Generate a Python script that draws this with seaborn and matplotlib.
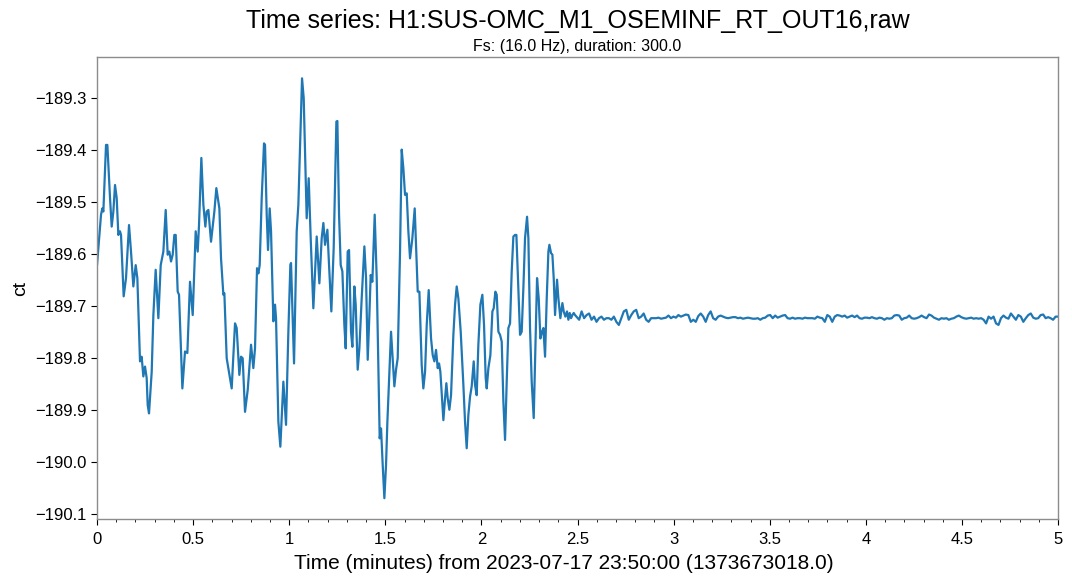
import numpy as np
import pandas as pd
import matplotlib
matplotlib.use("Agg")
import matplotlib.pyplot as plt
from matplotlib.ticker import MultipleLocator
import seaborn as sns

# ---------------  Data (seconds, counts)  ------------
# active part, first ~75 s
t_early = [0.0, 1.25, 1.66, 1.98, 2.81, 3.23, 4.06, 4.58, 5.10, 5.62,
           6.14, 6.66, 7.18, 7.49, 8.32, 9.05, 9.99, 10.61, 11.34, 12.07,
           12.59, 13.42, 13.94, 14.46, 14.98, 15.50, 15.82, 16.23, 17.07, 17.59,
           18.31, 19.15, 19.88, 20.71, 21.44, 22.06, 22.58, 23.10, 23.62, 24.14,
           24.56, 25.18, 25.60, 26.64, 27.47, 28.20, 29.03, 29.87, 30.80, 31.43,
           31.84, 32.57, 33.20, 33.82, 34.24, 34.76, 35.59, 36.63, 37.25, 37.57,
           38.19, 38.71, 39.44, 39.75, 40.48, 41.00, 42.04, 43.08, 43.60, 44.43,
           44.95, 45.47, 46.20, 47.04, 48.08, 48.80, 49.32, 49.95, 50.37, 50.78,
           51.41, 52.13, 52.45, 52.97, 53.38, 53.90, 54.32, 55.05, 55.57, 55.88,
           56.61, 57.23, 58.17, 59.00, 59.73, 60.35, 60.56, 61.50, 62.33, 62.85,
           63.37, 64.00, 64.52, 65.04, 65.45, 66.08, 66.70, 67.53, 68.58, 69.41,
           70.14, 70.66, 71.18, 71.91, 72.43, 73.15, 73.88, 74.72]
ct_early = [-189.621, -189.524, -189.512, -189.518, -189.390, -189.390, -189.492, -189.547, -189.518, -189.467,
            -189.492, -189.563, -189.556, -189.563, -189.681, -189.646, -189.544, -189.595, -189.662, -189.621,
            -189.646, -189.806, -189.797, -189.835, -189.816, -189.838, -189.890, -189.906, -189.826, -189.717,
            -189.630, -189.723, -189.621, -189.595, -189.515, -189.601, -189.595, -189.614, -189.601, -189.563,
            -189.563, -189.672, -189.678, -189.858, -189.787, -189.790, -189.653, -189.717, -189.556, -189.595,
            -189.544, -189.415, -189.505, -189.547, -189.518, -189.515, -189.576, -189.518, -189.473, -189.486,
            -189.512, -189.608, -189.678, -189.675, -189.800, -189.819, -189.858, -189.733, -189.742, -189.832,
            -189.797, -189.800, -189.903, -189.861, -189.774, -189.819, -189.781, -189.627, -189.637, -189.621,
            -189.492, -189.387, -189.390, -189.524, -189.592, -189.512, -189.556, -189.729, -189.697, -189.723,
            -189.922, -189.970, -189.845, -189.928, -189.749, -189.621, -189.617, -189.810, -189.556, -189.505,
            -189.396, -189.262, -189.300, -189.428, -189.531, -189.454, -189.569, -189.704, -189.566, -189.656,
            -189.569, -189.540, -189.582, -189.553, -189.621, -189.710, -189.588, -189.345]

# active part, ~75 s to ~149 s
t_late = [75.03, 75.55, 76.07, 76.59, 77.21, 77.63, 78.25, 78.67, 79.29, 79.71,
          80.33, 80.75, 81.37, 81.90, 82.62, 83.46, 83.98, 84.50, 85.02, 85.43,
          85.95, 86.68, 87.31, 87.83, 88.24, 88.66, 89.18, 89.70, 90.22, 90.64,
          91.16, 91.78, 92.30, 92.82, 93.34, 93.86, 94.59, 95.11, 95.63, 96.15,
          96.67, 97.19, 97.71, 98.44, 99.17, 100.11, 100.63, 101.35, 101.87, 102.40,
          102.92, 103.54, 104.27, 104.79, 105.31, 105.83, 106.35, 106.77, 107.18, 108.12,
          108.64, 109.05, 109.47, 109.99, 110.51, 111.24, 111.76, 112.28, 112.80, 113.53,
          114.36, 114.88, 115.40, 115.92, 116.44, 116.96, 117.59, 118.00, 118.52, 119.04,
          119.67, 120.29, 120.81, 121.33, 121.65, 122.17, 122.79, 123.42, 123.83, 124.35,
          124.77, 125.29, 125.81, 126.33, 126.85, 127.37, 127.89, 128.41, 128.93, 129.45,
          129.97, 130.49, 130.91, 131.53, 132.05, 132.57, 133.09, 133.61, 134.24, 134.65,
          135.17, 135.69, 136.32, 136.84, 137.36, 137.88, 138.40, 138.92, 139.34, 139.86,
          140.38, 140.90, 141.21, 141.73, 142.15, 142.56, 142.98, 143.60, 144.02, 144.64,
          145.27, 145.68, 146.20, 146.72, 147.14, 147.56, 147.97, 148.39, 148.81, 149.22]
ct_late = [-189.344, -189.524, -189.621, -189.633, -189.736, -189.781, -189.595, -189.592, -189.749, -189.778,
           -189.662, -189.697, -189.822, -189.781, -189.685, -189.585, -189.646, -189.803, -189.717, -189.640,
           -189.653, -189.524, -189.646, -189.813, -189.954, -189.935, -190.005, -190.069, -190.005, -189.922,
           -189.845, -189.749, -189.800, -189.854, -189.822, -189.800, -189.595, -189.399, -189.435, -189.486,
           -189.483, -189.556, -189.608, -189.569, -189.512, -189.672, -189.672, -189.813, -189.858, -189.826,
           -189.736, -189.669, -189.762, -189.794, -189.806, -189.784, -189.819, -189.810, -189.826, -189.919,
           -189.877, -189.848, -189.877, -189.899, -189.871, -189.755, -189.697, -189.662, -189.685, -189.749,
           -189.851, -189.922, -189.973, -189.909, -189.874, -189.854, -189.806, -189.851, -189.871, -189.774,
           -189.697, -189.678, -189.736, -189.838, -189.858, -189.819, -189.794, -189.710, -189.704, -189.672,
           -189.678, -189.749, -189.755, -189.768, -189.883, -189.957, -189.845, -189.742, -189.733, -189.633,
           -189.566, -189.563, -189.563, -189.665, -189.755, -189.749, -189.665, -189.569, -189.528, -189.569,
           -189.742, -189.845, -189.915, -189.781, -189.646, -189.685, -189.762, -189.749, -189.742, -189.797,
           -189.685, -189.595, -189.582, -189.598, -189.601, -189.646, -189.717, -189.649, -189.685, -189.723,
           -189.694, -189.710, -189.720, -189.710, -189.726, -189.713, -189.723, -189.717, -189.713, -189.717]

# quiet part, read every ~0.78 s from 150.5 s to 300 s
t_quiet_start, t_quiet_end = 150.5, 300.0
ct_quiet = [-189.726, -189.710, -189.723, -189.717, -189.714, -189.726, -189.720, -189.730, -189.723, -189.720,
            -189.726, -189.723, -189.723, -189.726, -189.720, -189.730, -189.736, -189.723, -189.710, -189.707,
            -189.726, -189.717, -189.710, -189.707, -189.723, -189.720, -189.714, -189.726, -189.730, -189.723,
            -189.723, -189.723, -189.722, -189.724, -189.723, -189.722, -189.718, -189.723, -189.720, -189.722,
            -189.717, -189.720, -189.718, -189.716, -189.717, -189.730, -189.726, -189.730, -189.719, -189.714,
            -189.720, -189.730, -189.717, -189.710, -189.723, -189.726, -189.720, -189.718, -189.720, -189.722,
            -189.723, -189.722, -189.721, -189.721, -189.723, -189.722, -189.724, -189.723, -189.722, -189.723,
            -189.724, -189.724, -189.723, -189.726, -189.723, -189.722, -189.718, -189.717, -189.723, -189.718,
            -189.722, -189.720, -189.718, -189.717, -189.723, -189.724, -189.722, -189.724, -189.723, -189.723,
            -189.724, -189.722, -189.723, -189.723, -189.723, -189.724, -189.720, -189.722, -189.723, -189.730,
            -189.717, -189.720, -189.730, -189.720, -189.717, -189.718, -189.720, -189.718, -189.722, -189.720,
            -189.718, -189.721, -189.718, -189.723, -189.724, -189.722, -189.722, -189.723, -189.721, -189.723,
            -189.724, -189.722, -189.723, -189.726, -189.723, -189.724, -189.723, -189.718, -189.717, -189.718,
            -189.726, -189.723, -189.722, -189.718, -189.723, -189.724, -189.723, -189.721, -189.718, -189.721,
            -189.723, -189.716, -189.718, -189.722, -189.724, -189.726, -189.723, -189.724, -189.723, -189.726,
            -189.724, -189.723, -189.720, -189.718, -189.721, -189.723, -189.724, -189.723, -189.722, -189.724,
            -189.723, -189.724, -189.723, -189.726, -189.733, -189.720, -189.724, -189.720, -189.733, -189.736,
            -189.723, -189.718, -189.722, -189.724, -189.714, -189.720, -189.726, -189.717, -189.720, -189.730,
            -189.723, -189.717, -189.714, -189.722, -189.724, -189.723, -189.717, -189.716, -189.723, -189.721,
            -189.723, -189.726, -189.720, -189.720]

t_quiet = np.linspace(t_quiet_start, t_quiet_end, len(ct_quiet))

series = pd.DataFrame({
    "seconds": np.concatenate([t_early, t_late, t_quiet]),
    "ct": np.concatenate([ct_early, ct_late, ct_quiet]),
})
series["minutes"] = series["seconds"] / 60.0

# ---------------  Plot  ------------
sns.set_theme(style="ticks")
plt.rcParams["font.family"] = ["Liberation Sans", "DejaVu Sans"]
plt.rcParams["axes.edgecolor"] = "#8c8c8c"
plt.rcParams["axes.linewidth"] = 1.0
plt.rcParams["text.color"] = "black"
plt.rcParams["axes.labelcolor"] = "black"
plt.rcParams["xtick.color"] = "black"
plt.rcParams["ytick.color"] = "black"

fig = plt.figure(figsize=(10.72, 5.81), dpi=100)
ax = fig.add_axes([0.0905, 0.1067, 0.8965, 0.7952])

sns.lineplot(data=series, x="minutes", y="ct", ax=ax, color="#1f77b4",
             linewidth=1.6, sort=False)

ax.set_xlim(0, 5)
ax.set_ylim(-190.109, -189.221)
ax.xaxis.set_major_locator(MultipleLocator(0.5))
ax.xaxis.set_minor_locator(MultipleLocator(0.1))
ax.yaxis.set_major_locator(MultipleLocator(0.1))
ax.xaxis.set_major_formatter(plt.FuncFormatter(lambda v, p: f"{v:g}"))
ax.tick_params(axis="both", which="major", length=4, width=0.8,
               labelsize=12, direction="out")
ax.tick_params(axis="x", which="major", pad=5)
ax.tick_params(axis="x", which="minor", length=2.5, width=0.6)
for side in ["top", "right"]:
    ax.spines[side].set_visible(True)

ax.set_xlabel("Time (minutes) from 2023-07-17 23:50:00 (1373673018.0)", fontsize=15,
              labelpad=3)
ax.xaxis.set_label_coords(0.486, -0.075)
ax.set_ylabel("ct", fontsize=14)
fig.suptitle("Time series: H1:SUS-OMC_M1_OSEMINF_RT_OUT16,raw", x=0.539, y=0.985,
             fontsize=18)
ax.set_title("Fs: (16.0 Hz), duration: 300.0", fontsize=11.5, pad=4)

fig.savefig("out.png", dpi=100)
